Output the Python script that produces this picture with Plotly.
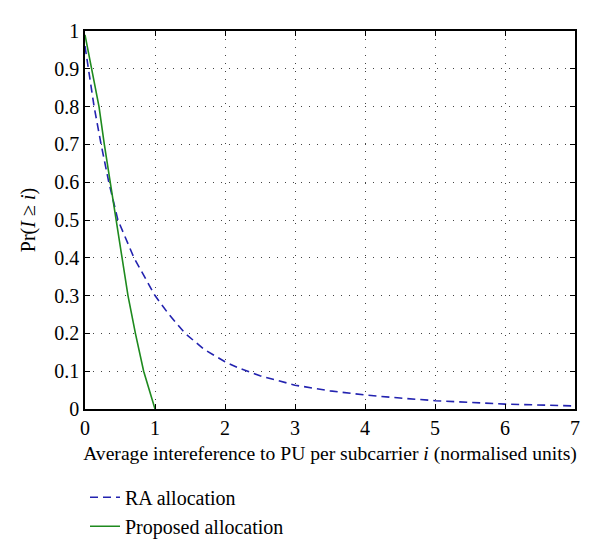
import plotly.graph_objects as go

# RA allocation (blue dashed)
ra_x = [0, 0.05, 0.13, 0.23, 0.34, 0.47, 0.7, 1.0, 1.2, 1.43, 1.7, 2.0, 2.2, 2.5, 3.0, 3.5, 4.0, 4.5, 5.0, 6.0, 7.0]
ra_y = [0.96, 0.9, 0.8, 0.7, 0.6, 0.5, 0.4, 0.3, 0.25, 0.2, 0.158, 0.125, 0.108, 0.088, 0.063, 0.048, 0.037, 0.029, 0.022, 0.013, 0.008]

# Proposed allocation (green solid)
pa_x = [0, 0.2, 0.276, 0.36, 0.44, 0.52, 0.614, 0.72, 0.838, 1.0]
pa_y = [0.99, 0.8, 0.7, 0.6, 0.5, 0.4, 0.3, 0.2, 0.1, 0.0]

x_ticks = [0, 1, 2, 3, 4, 5, 6, 7]
y_ticks = [0, 0.1, 0.2, 0.3, 0.4, 0.5, 0.6, 0.7, 0.8, 0.9, 1]
y_tick_labels = ["0", "0.1", "0.2", "0.3", "0.4", "0.5", "0.6", "0.7", "0.8", "0.9", "1"]

FONT = "Liberation Serif"

fig = go.Figure()
fig.add_trace(go.Scatter(x=ra_x, y=ra_y, mode="lines", name="RA allocation",
                         line=dict(color="#2323b0", width=1.6, dash="8px,5px")))
fig.add_trace(go.Scatter(x=pa_x, y=pa_y, mode="lines", name="Proposed allocation",
                         line=dict(color="#1e8a1e", width=1.6)))

axis_common = dict(showline=True, linecolor="black", linewidth=1.5, mirror="ticks",
                   ticks="inside", ticklen=5, tickcolor="black", tickwidth=1.2,
                   showgrid=True, gridcolor="#444444", gridwidth=1, griddash="1px,7px",
                   zeroline=False, tickfont=dict(family=FONT, size=20, color="black"))

fig.update_xaxes(range=[0, 7], tickvals=x_ticks,
                 title=dict(text="Average intereference to PU per subcarrier <i>i</i> (normalised units)",
                            font=dict(family=FONT, size=19.6, color="black"), standoff=9),
                 **axis_common)
fig.update_yaxes(range=[0, 1], tickvals=y_ticks, ticktext=y_tick_labels,
                 title=dict(text="Pr(<i>I</i> ≥ <i>i</i>)",
                            font=dict(family=FONT, size=20, color="black"), standoff=13),
                 **axis_common)

fig.update_layout(
    width=600, height=554,
    margin=dict(l=77, r=33, t=23, b=153),
    plot_bgcolor="white", paper_bgcolor="white",
    showlegend=True,
    legend=dict(x=0.0, y=-0.182, xanchor="left", yanchor="top",
                font=dict(family=FONT, size=20, color="black"),
                bgcolor="rgba(0,0,0,0)", tracegroupgap=0, itemwidth=30),
)

fig.write_html("out.html")
